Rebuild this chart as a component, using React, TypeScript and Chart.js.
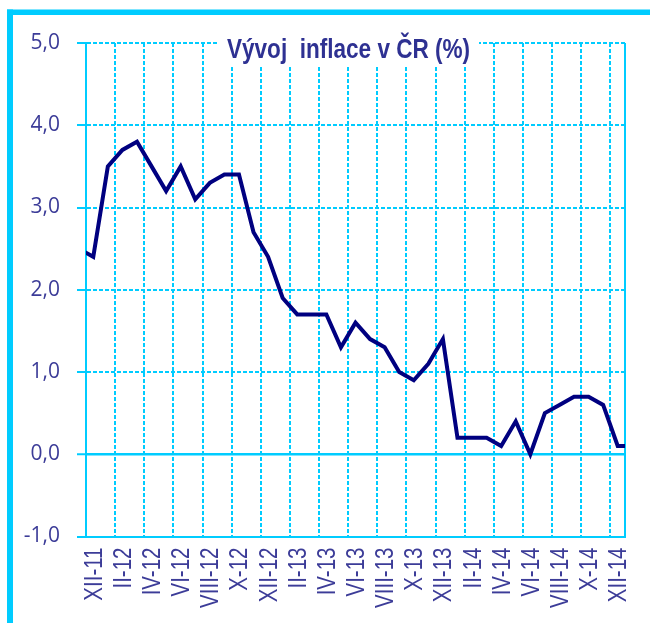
import React, { useEffect, useRef } from 'react';
import { Chart, registerables } from 'chart.js';

Chart.register(...registerables);

// Months (Roman numeral month - year). First and last entries lie just outside the visible range.
const months: string[] = [
  'XI-11', 'XII-11',
  'I-12', 'II-12', 'III-12', 'IV-12', 'V-12', 'VI-12', 'VII-12', 'VIII-12', 'IX-12', 'X-12', 'XI-12', 'XII-12',
  'I-13', 'II-13', 'III-13', 'IV-13', 'V-13', 'VI-13', 'VII-13', 'VIII-13', 'IX-13', 'X-13', 'XI-13', 'XII-13',
  'I-14', 'II-14', 'III-14', 'IV-14', 'V-14', 'VI-14', 'VII-14', 'VIII-14', 'IX-14', 'X-14', 'XI-14', 'XII-14',
  'I-15',
];

// Inflation (%)
const inflation: number[] = [
  2.5, 2.4,
  3.5, 3.7, 3.8, 3.5, 3.2, 3.5, 3.1, 3.3, 3.4, 3.4, 2.7, 2.4,
  1.9, 1.7, 1.7, 1.7, 1.3, 1.6, 1.4, 1.3, 1.0, 0.9, 1.1, 1.4,
  0.2, 0.2, 0.2, 0.1, 0.4, 0.0, 0.5, 0.6, 0.7, 0.7, 0.6, 0.1,
  0.1,
];

const firstVisible = 'XII-11';
const lastVisible = 'XII-14';
const yMin = -1;
const yMax = 5;
const yStep = 1;
const chartTitle = 'Vývoj  inflace v ČR (%)';

const CYAN = '#00CCFF';
const LABEL = '#3C3C98';
const TITLE = '#2E3192';
const LINE = '#000080';

const framePlugin = {
  id: 'frame',
  beforeDraw(chart: any) {
    const { ctx } = chart;
    ctx.save();
    ctx.fillStyle = CYAN;
    ctx.fillRect(7, 9.5, 650, 5.5);
    ctx.fillRect(7, 9.5, 6, 620);
    ctx.restore();
  },
};

// Condensed, rotated x-axis labels placed at the category scale's tick pixels
const xLabelPlugin = {
  id: 'xLabels',
  afterDraw(chart: any) {
    const { ctx } = chart;
    const scale = chart.scales.x;
    ctx.save();
    ctx.fillStyle = LABEL;
    ctx.font = '25px "Liberation Sans", Arial, sans-serif';
    ctx.textAlign = 'right';
    ctx.textBaseline = 'alphabetic';
    scale.ticks.forEach((t: any, i: number) => {
      if (!t.label) return;
      const x = scale.getPixelForTick(i);
      ctx.save();
      ctx.translate(x + 8.5, scale.top + 11);
      ctx.rotate(-Math.PI / 2);
      ctx.scale(0.82, 1);
      ctx.fillText(t.label, 0, 0);
      ctx.restore();
    });
    ctx.restore();
  },
};

const titlePlugin = {
  id: 'boxTitle',
  afterDraw(chart: any) {
    const { ctx } = chart;
    ctx.save();
    ctx.fillStyle = '#ffffff';
    ctx.fillRect(217, 28, 262, 38.5);
    ctx.font = 'bold 27.5px "Liberation Sans", Arial, sans-serif';
    ctx.fillStyle = TITLE;
    ctx.textAlign = 'left';
    ctx.textBaseline = 'alphabetic';
    ctx.translate(227, 58);
    ctx.scale(0.82, 1);
    ctx.fillText(chartTitle, 0, 0);
    ctx.restore();
  },
};

export default function App() {
  const ref = useRef<HTMLCanvasElement | null>(null);

  useEffect(() => {
    if (!ref.current) return;
    const chart = new Chart(ref.current, {
      type: 'line',
      data: {
        labels: months,
        datasets: [
          {
            data: inflation,
            borderColor: LINE,
            borderWidth: 4,
            pointRadius: 0,
            pointHoverRadius: 0,
            tension: 0,
            fill: false,
            clip: 0,
          } as any,
        ],
      },
      options: {
        animation: false,
        responsive: false,
        maintainAspectRatio: false,
        events: [],
        layout: { padding: { left: 0, top: 43, right: 25, bottom: 0 } },
        plugins: {
          legend: { display: false },
          tooltip: { enabled: false },
          title: { display: false },
        },
        scales: {
          x: {
            type: 'category',
            offset: true,
            afterDataLimits: (s: any) => {
              s.min = months.indexOf(firstVisible);
              s.max = months.indexOf(lastVisible);
            },
            grid: {
              offset: true,
              drawTicks: false,
              lineWidth: 2,
              color: (c: any) => (c.index === undefined || c.index % 2 === 0 ? CYAN : 'rgba(0,0,0,0)'),
            },
            border: {
              display: true,
              color: CYAN,
              width: 2,
              dash: (c: any) => (c.index === undefined ? [] : [4, 2]),
            },
            ticks: {
              display: false,
              autoSkip: false,
              callback: function (this: any, value: any, index: number) {
                return index % 2 === 0 ? this.getLabelForValue(value) : '';
              },
            },
            afterFit: (s: any) => {
              s.height = 86.5;
              s.paddingLeft = 0;
              s.paddingRight = 0;
            },
          } as any,
          y: {
            min: yMin,
            max: yMax,
            ticks: {
              stepSize: yStep,
              padding: 17,
              color: LABEL,
              font: { family: '"Open Sans", sans-serif', size: 21 },
              callback: (v: any) => Number(v).toFixed(1).replace('.', ','),
            },
            grid: {
              color: CYAN,
              lineWidth: (c: any) => (c.tick && c.tick.value === 0 ? 2.5 : 2),
              tickLength: 9,
              tickColor: CYAN,
              tickWidth: 2,
            },
            border: {
              display: true,
              color: CYAN,
              width: 2,
              dash: (c: any) => (c.tick && c.tick.value === 0 ? [] : [4, 2]),
            },
            afterFit: (s: any) => {
              s.width = 86;
            },
          } as any,
        },
      },
      plugins: [framePlugin, xLabelPlugin, titlePlugin],
    });
    return () => chart.destroy();
  }, []);

  return (
    <div style={{ position: 'absolute', left: 0, top: 0, width: 650, height: 623, overflow: 'hidden', background: '#fff' }}>
      <canvas ref={ref} width={650} height={623} style={{ display: 'block', width: 650, height: 623 }} />
    </div>
  );
}
